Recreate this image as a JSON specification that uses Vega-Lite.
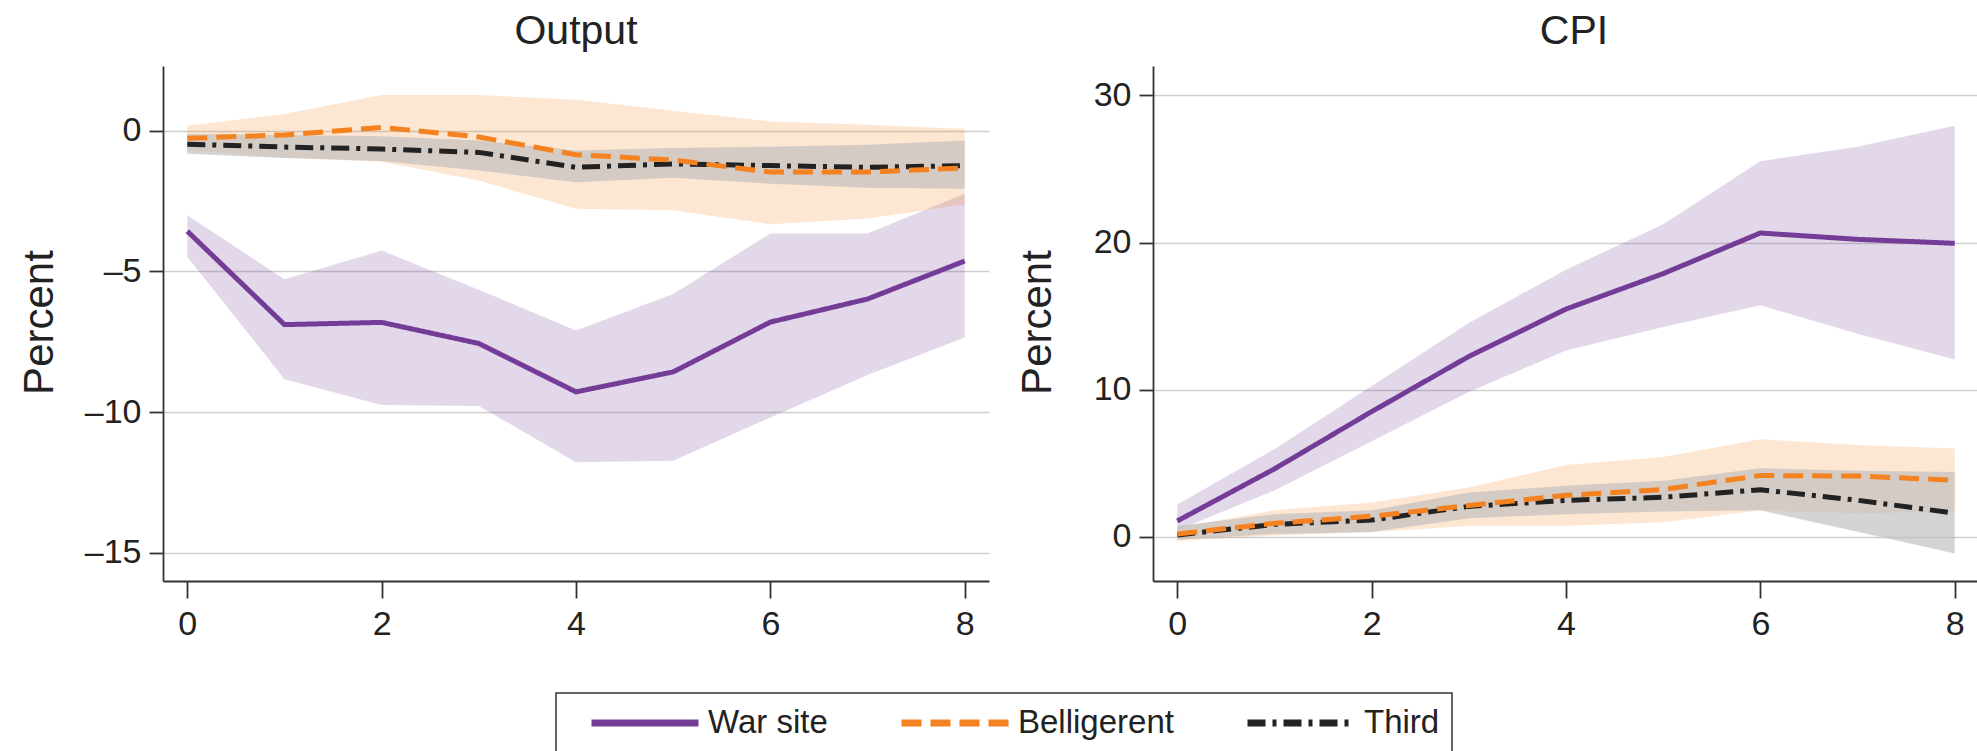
{
  "$schema": "https://vega.github.io/schema/vega-lite/v6.json",
  "background": "white",
  "padding": {"left": 18, "top": 11, "right": 0, "bottom": 0},
  "datasets": {
    "d": [
      {"panel": "Output", "group": "Third", "h": 0, "est": -0.48, "lo": -0.82, "hi": -0.12},
      {"panel": "Output", "group": "Third", "h": 1, "est": -0.58, "lo": -0.97, "hi": -0.15},
      {"panel": "Output", "group": "Third", "h": 2, "est": -0.65, "lo": -1.08, "hi": -0.2},
      {"panel": "Output", "group": "Third", "h": 3, "est": -0.77, "lo": -1.41, "hi": -0.35},
      {"panel": "Output", "group": "Third", "h": 4, "est": -1.3, "lo": -1.83, "hi": -0.7},
      {"panel": "Output", "group": "Third", "h": 5, "est": -1.18, "lo": -1.67, "hi": -0.61},
      {"panel": "Output", "group": "Third", "h": 6, "est": -1.24, "lo": -1.88, "hi": -0.57},
      {"panel": "Output", "group": "Third", "h": 7, "est": -1.3, "lo": -2.03, "hi": -0.5},
      {"panel": "Output", "group": "Third", "h": 8, "est": -1.24, "lo": -2.06, "hi": -0.35},
      {"panel": "Output", "group": "Belligerent", "h": 0, "est": -0.27, "lo": -0.7, "hi": 0.18},
      {"panel": "Output", "group": "Belligerent", "h": 1, "est": -0.15, "lo": -0.95, "hi": 0.59},
      {"panel": "Output", "group": "Belligerent", "h": 2, "est": 0.12, "lo": -1.1, "hi": 1.27},
      {"panel": "Output", "group": "Belligerent", "h": 3, "est": -0.22, "lo": -1.77, "hi": 1.27},
      {"panel": "Output", "group": "Belligerent", "h": 4, "est": -0.85, "lo": -2.77, "hi": 1.1},
      {"panel": "Output", "group": "Belligerent", "h": 5, "est": -1.04, "lo": -2.83, "hi": 0.71},
      {"panel": "Output", "group": "Belligerent", "h": 6, "est": -1.47, "lo": -3.32, "hi": 0.33},
      {"panel": "Output", "group": "Belligerent", "h": 7, "est": -1.47, "lo": -3.12, "hi": 0.21},
      {"panel": "Output", "group": "Belligerent", "h": 8, "est": -1.32, "lo": -2.62, "hi": 0.06},
      {"panel": "Output", "group": "War site", "h": 0, "est": -3.57, "lo": -4.48, "hi": -3.0},
      {"panel": "Output", "group": "War site", "h": 1, "est": -6.89, "lo": -8.83, "hi": -5.28},
      {"panel": "Output", "group": "War site", "h": 2, "est": -6.81, "lo": -9.75, "hi": -4.26},
      {"panel": "Output", "group": "War site", "h": 3, "est": -7.56, "lo": -9.78, "hi": -5.65},
      {"panel": "Output", "group": "War site", "h": 4, "est": -9.28, "lo": -11.78, "hi": -7.1},
      {"panel": "Output", "group": "War site", "h": 5, "est": -8.57, "lo": -11.73, "hi": -5.8},
      {"panel": "Output", "group": "War site", "h": 6, "est": -6.8, "lo": -10.19, "hi": -3.65},
      {"panel": "Output", "group": "War site", "h": 7, "est": -5.98, "lo": -8.68, "hi": -3.65},
      {"panel": "Output", "group": "War site", "h": 8, "est": -4.63, "lo": -7.35, "hi": -2.24},
      {"panel": "CPI", "group": "Third", "h": 0, "est": 0.13, "lo": -0.2, "hi": 0.73},
      {"panel": "CPI", "group": "Third", "h": 1, "est": 0.85, "lo": 0.2, "hi": 1.54},
      {"panel": "CPI", "group": "Third", "h": 2, "est": 1.14, "lo": 0.33, "hi": 1.8},
      {"panel": "CPI", "group": "Third", "h": 3, "est": 2.07, "lo": 1.27, "hi": 3.01},
      {"panel": "CPI", "group": "Third", "h": 4, "est": 2.48, "lo": 1.54, "hi": 3.47},
      {"panel": "CPI", "group": "Third", "h": 5, "est": 2.69, "lo": 1.72, "hi": 3.82},
      {"panel": "CPI", "group": "Third", "h": 6, "est": 3.2, "lo": 1.8, "hi": 4.66},
      {"panel": "CPI", "group": "Third", "h": 7, "est": 2.49, "lo": 0.34, "hi": 4.5},
      {"panel": "CPI", "group": "Third", "h": 8, "est": 1.61, "lo": -1.13, "hi": 4.41},
      {"panel": "CPI", "group": "Belligerent", "h": 0, "est": 0.2, "lo": -0.29, "hi": 0.6},
      {"panel": "CPI", "group": "Belligerent", "h": 1, "est": 0.92, "lo": 0.1, "hi": 1.8},
      {"panel": "CPI", "group": "Belligerent", "h": 2, "est": 1.4, "lo": 0.33, "hi": 2.34},
      {"panel": "CPI", "group": "Belligerent", "h": 3, "est": 2.13, "lo": 0.73, "hi": 3.36},
      {"panel": "CPI", "group": "Belligerent", "h": 4, "est": 2.82, "lo": 0.76, "hi": 4.89},
      {"panel": "CPI", "group": "Belligerent", "h": 5, "est": 3.22, "lo": 1.0, "hi": 5.42},
      {"panel": "CPI", "group": "Belligerent", "h": 6, "est": 4.17, "lo": 1.8, "hi": 6.63},
      {"panel": "CPI", "group": "Belligerent", "h": 7, "est": 4.13, "lo": 1.6, "hi": 6.25},
      {"panel": "CPI", "group": "Belligerent", "h": 8, "est": 3.85, "lo": 1.7, "hi": 6.0},
      {"panel": "CPI", "group": "War site", "h": 0, "est": 1.08, "lo": 0.46, "hi": 2.2},
      {"panel": "CPI", "group": "War site", "h": 1, "est": 4.62, "lo": 3.15, "hi": 5.96},
      {"panel": "CPI", "group": "War site", "h": 2, "est": 8.51, "lo": 6.5, "hi": 10.25},
      {"panel": "CPI", "group": "War site", "h": 3, "est": 12.26, "lo": 9.85, "hi": 14.54},
      {"panel": "CPI", "group": "War site", "h": 4, "est": 15.48, "lo": 12.66, "hi": 18.16},
      {"panel": "CPI", "group": "War site", "h": 5, "est": 17.89, "lo": 14.27, "hi": 21.24},
      {"panel": "CPI", "group": "War site", "h": 6, "est": 20.65, "lo": 15.74, "hi": 25.53},
      {"panel": "CPI", "group": "War site", "h": 7, "est": 20.22, "lo": 13.81, "hi": 26.52},
      {"panel": "CPI", "group": "War site", "h": 8, "est": 19.95, "lo": 12.05, "hi": 27.94}
    ]
  },
  "spacing": 164,
  "bounds": "flush",
  "resolve": {
    "scale": {"color": "shared", "strokeDash": "shared"},
    "legend": {"color": "shared", "strokeDash": "shared"}
  },
  "hconcat": [
    {
      "title": {"text": "Output"},
      "width": 826,
      "height": 515,
      "data": {"name": "d"},
      "transform": [{"filter": "datum.panel === 'Output'"}],
      "encoding": {
        "x": {"field": "h", "type": "quantitative", "title": null,
              "scale": {"domain": [-0.25, 8.25], "nice": false, "zero": false},
              "axis": {"values": [0, 2, 4, 6, 8]}}
      },
      "layer": [
        {
          "transform": [{"filter": "datum.group === 'War site'"}],
          "mark": {"type": "area", "color": "#733c96", "opacity": 0.2},
          "encoding": {
            "y": {"field": "lo", "type": "quantitative", "title": "Percent",
                  "scale": {"domain": [-16, 2.3], "nice": false, "zero": false},
                  "axis": {"values": [0, -5, -10, -15], "titleX": -111, "titleY": 256, "titleBaseline": "alphabetic",
                           "labelExpr": "datum.value < 0 ? '–' + (-datum.value) : '' + datum.value"}},
            "y2": {"field": "hi"}
          }
        },
        {
          "transform": [{"filter": "datum.group === 'Belligerent'"}],
          "mark": {"type": "area", "color": "#f58220", "opacity": 0.2},
          "encoding": {
            "y": {"field": "lo", "type": "quantitative", "title": "Percent"},
            "y2": {"field": "hi"}
          }
        },
        {
          "transform": [{"filter": "datum.group === 'Third'"}],
          "mark": {"type": "area", "color": "#bdbdbd", "opacity": 0.65},
          "encoding": {
            "y": {"field": "lo", "type": "quantitative", "title": "Percent"},
            "y2": {"field": "hi"}
          }
        },
        {
          "mark": {"type": "rule", "color": "#333333", "strokeWidth": 1.8},
          "encoding": {"y": {"datum": 0, "type": "quantitative", "title": "Percent"}}
        },
        {
          "mark": {"type": "line", "strokeWidth": 5},
          "encoding": {
            "y": {"field": "est", "type": "quantitative", "title": "Percent"},
            "color": {"field": "group", "type": "nominal",
                      "scale": {"domain": ["War site", "Belligerent", "Third"], "range": ["#733c96", "#f58220", "#222222"]},
                      "legend": {"title": null, "orient": "none", "legendX": 393, "legendY": 627, "direction": "horizontal"}},
            "strokeDash": {"field": "group", "type": "nominal",
                      "scale": {"domain": ["War site", "Belligerent", "Third"], "range": [[1, 0], [20, 9], [18, 7, 4, 7]]},
                      "legend": {"title": null, "orient": "none", "legendX": 393, "legendY": 627, "direction": "horizontal"}}
          }
        }
      ]
    },
    {
      "title": {"text": "CPI", "dx": 8},
      "width": 826,
      "height": 515,
      "data": {"name": "d"},
      "transform": [{"filter": "datum.panel === 'CPI'"}],
      "encoding": {
        "x": {"field": "h", "type": "quantitative", "title": null,
              "scale": {"domain": [-0.25, 8.25], "nice": false, "zero": false},
              "axis": {"values": [0, 2, 4, 6, 8]}}
      },
      "layer": [
        {
          "transform": [{"filter": "datum.group === 'War site'"}],
          "mark": {"type": "area", "color": "#733c96", "opacity": 0.2},
          "encoding": {
            "y": {"field": "lo", "type": "quantitative", "title": "Percent",
                  "scale": {"domain": [-3, 32], "nice": false, "zero": false},
                  "axis": {"values": [0, 10, 20, 30], "titleX": -103, "titleY": 256, "titleBaseline": "alphabetic"}},
            "y2": {"field": "hi"}
          }
        },
        {
          "transform": [{"filter": "datum.group === 'Belligerent'"}],
          "mark": {"type": "area", "color": "#f58220", "opacity": 0.2},
          "encoding": {
            "y": {"field": "lo", "type": "quantitative", "title": "Percent"},
            "y2": {"field": "hi"}
          }
        },
        {
          "transform": [{"filter": "datum.group === 'Third'"}],
          "mark": {"type": "area", "color": "#bdbdbd", "opacity": 0.65},
          "encoding": {
            "y": {"field": "lo", "type": "quantitative", "title": "Percent"},
            "y2": {"field": "hi"}
          }
        },
        {
          "mark": {"type": "rule", "color": "#333333", "strokeWidth": 1.8},
          "encoding": {"y": {"datum": 0, "type": "quantitative", "title": "Percent"}}
        },
        {
          "mark": {"type": "line", "strokeWidth": 5},
          "encoding": {
            "y": {"field": "est", "type": "quantitative", "title": "Percent"},
            "color": {"field": "group", "type": "nominal",
                      "scale": {"domain": ["War site", "Belligerent", "Third"], "range": ["#733c96", "#f58220", "#222222"]},
                      "legend": {"title": null, "orient": "none", "legendX": 393, "legendY": 627, "direction": "horizontal"}},
            "strokeDash": {"field": "group", "type": "nominal",
                      "scale": {"domain": ["War site", "Belligerent", "Third"], "range": [[1, 0], [20, 9], [18, 7, 4, 7]]},
                      "legend": {"title": null, "orient": "none", "legendX": 393, "legendY": 627, "direction": "horizontal"}}
          }
        }
      ]
    }
  ],
  "config": {
    "view": {"stroke": null},
    "font": "Liberation Sans",
    "axis": {
      "domainColor": "#333333", "domainWidth": 1.8,
      "tickColor": "#333333", "tickWidth": 1.8,
      "labelFont": "Liberation Sans", "labelFontSize": 34, "labelColor": "#222222",
      "titleFont": "Liberation Sans", "titleFontSize": 42, "titleFontWeight": "normal", "titleColor": "#222222",
      "gridColor": "#cfcfcf", "gridWidth": 1.5
    },
    "axisX": {"grid": false, "tickSize": 17, "labelPadding": 9},
    "axisY": {"grid": true, "tickSize": 14, "labelPadding": 8},
    "title": {"font": "Liberation Sans", "fontSize": 41, "fontWeight": "normal", "color": "#222222", "baseline": "alphabetic", "offset": 13, "anchor": "middle"},
    "legend": {
      "symbolType": "stroke", "symbolSize": 11449, "symbolStrokeWidth": 7,
      "clipHeight": 36, "symbolOffset": 20, "labelOffset": 6, "columnPadding": 50,
      "labelFont": "Liberation Sans", "labelFontSize": 33, "labelColor": "#222222", "labelLimit": 0,
      "padding": 12, "strokeColor": "#333333", "strokeWidth": 1.5
    }
  }
}
